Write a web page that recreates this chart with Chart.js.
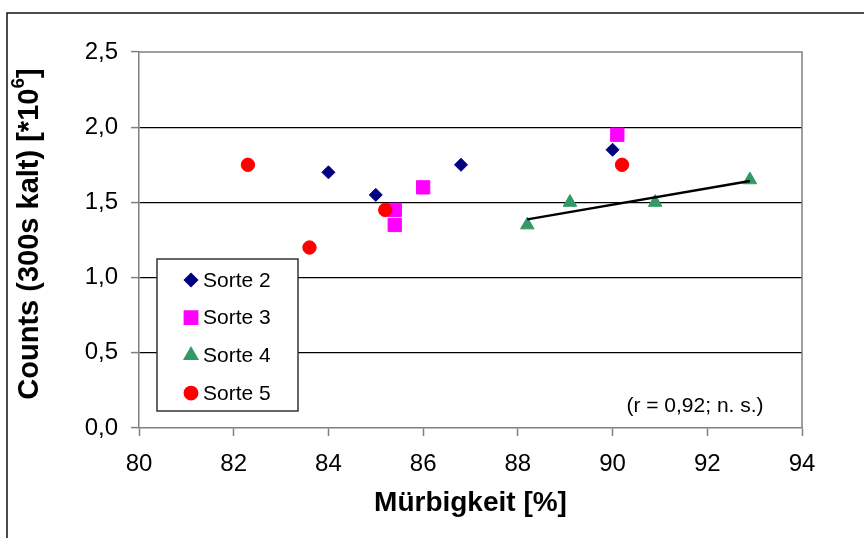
<!DOCTYPE html>
<html>
<head>
<meta charset="utf-8">
<script src="https://cdn.jsdelivr.net/npm/chart.js@4/dist/chart.umd.min.js"></script>
<style>
  html, body { margin: 0; padding: 0; background: #fff; }
  #wrap { width: 864px; height: 538px; position: relative; }
</style>
</head>
<body>
<div id="wrap"><canvas id="chart" width="864" height="538"></canvas></div>
<script>
// Mürbigkeit [%] vs. Counts [*10^6] per Sorte
const sorte2X = [84.0, 85.0, 86.8, 90.0];
const sorte2Y = [1.70, 1.55, 1.75, 1.85];
const sorte3X = [85.4, 85.4, 86.0, 90.1];
const sorte3Y = [1.45, 1.35, 1.60, 1.95];
const sorte4X = [88.2, 89.1, 90.9, 92.9];
const sorte4Y = [1.35, 1.50, 1.50, 1.65];
const sorte5X = [82.3, 83.6, 85.2, 90.2];
const sorte5Y = [1.75, 1.20, 1.45, 1.75];

const seriesLabels = ['Sorte 2', 'Sorte 3', 'Sorte 4', 'Sorte 5'];
const xTitle = 'Mürbigkeit [%]';
const yTitleMain = 'Counts (300s kalt) [*10';
const yTitleSup = '6';
const yTitleEnd = ']';
const noteText = '(r = 0,92; n. s.)';

const FONT = "'Liberation Sans', Arial, Helvetica, sans-serif";

const toPoints = (xs, ys) => xs.map((x, i) => ({ x, y: ys[i] }));

// linear trend through Sorte 4
function trendLine(xs, ys) {
    const n = xs.length;
    const mx = xs.reduce((a, b) => a + b, 0) / n;
    const my = ys.reduce((a, b) => a + b, 0) / n;
    let sxy = 0, sxx = 0;
    xs.forEach((x, i) => { sxy += (x - mx) * (ys[i] - my); sxx += (x - mx) * (x - mx); });
    const k = sxy / sxx;
    const x0 = Math.min(...xs), x1 = Math.max(...xs);
    return [{ x: x0, y: my + k * (x0 - mx) }, { x: x1, y: my + k * (x1 - mx) }];
}

// outer frame, plot border, titles
const decor = {
    id: 'decor',
    beforeDraw(chart) {
        const ctx = chart.ctx;
        ctx.save();
        ctx.fillStyle = '#fff';
        ctx.fillRect(0, 0, chart.width, chart.height);
        ctx.strokeStyle = '#111';
        ctx.lineWidth = 1.5;
        ctx.strokeRect(7, 13, chart.width + 20, chart.height + 20);
        ctx.restore();
    },
    beforeDatasetsDraw(chart) {
        const { ctx, chartArea: a } = chart;
        ctx.save();
        ctx.strokeStyle = '#808080';
        ctx.lineWidth = 1.5;
        ctx.beginPath();
        ctx.moveTo(a.left, a.top);
        ctx.lineTo(a.right, a.top);
        ctx.lineTo(a.right, a.bottom);
        ctx.stroke();
        ctx.restore();
    },
    afterDraw(chart) {
        const { ctx, chartArea: a } = chart;
        ctx.save();
        ctx.fillStyle = '#000';

        // x title
        ctx.font = 'bold 28px ' + FONT;
        ctx.textAlign = 'center';
        ctx.textBaseline = 'middle';
        ctx.fillText(xTitle, (a.left + a.right) / 2, 503);

        // y title with superscript
        ctx.translate(28, 234);
        ctx.rotate(-Math.PI / 2);
        const bigFont = 'bold 29px ' + FONT;
        const supFont = 'bold 19px ' + FONT;
        ctx.font = bigFont;
        const w1 = ctx.measureText(yTitleMain).width;
        const w3 = ctx.measureText(yTitleEnd).width;
        ctx.font = supFont;
        const w2 = ctx.measureText(yTitleSup).width;
        let x = -(w1 + w2 + w3) / 2;
        ctx.textAlign = 'left';
        ctx.textBaseline = 'alphabetic';
        ctx.font = bigFont;
        ctx.fillText(yTitleMain, x, 10);
        x += w1;
        ctx.font = supFont;
        ctx.fillText(yTitleSup, x, -4);
        x += w2;
        ctx.font = bigFont;
        ctx.fillText(yTitleEnd, x, 10);
        ctx.restore();

        // note in the lower right
        ctx.save();
        ctx.font = '21px ' + FONT;
        ctx.fillStyle = '#000';
        ctx.textAlign = 'center';
        ctx.textBaseline = 'middle';
        ctx.fillText(noteText, 695, 406);
        ctx.restore();
    }
};

// boxed legend inside the plot area
const legendBox = {
    id: 'legendBox',
    afterDatasetsDraw(chart) {
        const ctx = chart.ctx;
        ctx.save();
        ctx.fillStyle = '#fff';
        ctx.fillRect(157, 259, 141, 152);
        ctx.strokeStyle = '#333';
        ctx.lineWidth = 1.5;
        ctx.strokeRect(157, 259, 141, 152);
        ctx.font = '21px ' + FONT;
        ctx.textAlign = 'left';
        ctx.textBaseline = 'middle';
        chart.data.datasets.forEach((ds, i) => {
            if (ds.type === 'line') return;
            const y = 280 + i * 37.7;
            ctx.fillStyle = ds.backgroundColor;
            ctx.strokeStyle = ds.borderColor;
            Chart.helpers.drawPoint(ctx, {
                pointStyle: ds.pointStyle, radius: ds.pointRadius, rotation: 0, borderWidth: 1
            }, 191, y);
            ctx.fillStyle = '#000';
            ctx.fillText(ds.label, 203, y + 1);
        });
        ctx.restore();
    }
};

function scatterSet(label, xs, ys, color, style, radius, order) {
    return {
        label, data: toPoints(xs, ys),
        pointStyle: style, pointRadius: radius, pointHoverRadius: radius,
        backgroundColor: color, borderColor: color, borderWidth: 1, order
    };
}

new Chart(document.getElementById('chart'), {
    type: 'scatter',
    data: {
        datasets: [
            scatterSet(seriesLabels[0], sorte2X, sorte2Y, '#000080', 'rectRot', 6.5, 4),
            scatterSet(seriesLabels[1], sorte3X, sorte3Y, '#ff00ff', 'rect', 9.4, 3),
            scatterSet(seriesLabels[2], sorte4X, sorte4Y, '#339966', 'triangle', 7.8, 2),
            scatterSet(seriesLabels[3], sorte5X, sorte5Y, '#ff0000', 'circle', 6.7, 1),
            {
                type: 'line', label: 'Trend', data: trendLine(sorte4X, sorte4Y),
                borderColor: '#000', borderWidth: 2.5, pointRadius: 0, fill: false, order: 0
            }
        ]
    },
    options: {
        responsive: false,
        animation: false,
        events: [],
        layout: { padding: { top: 52, right: 62, left: 0, bottom: 0 } },
        plugins: { legend: { display: false }, tooltip: { enabled: false } },
        scales: {
            x: {
                type: 'linear', min: 80, max: 94,
                afterFit: s => { s.height = 110; },
                ticks: {
                    stepSize: 2, color: '#000', padding: 14,
                    font: { family: FONT, size: 24 }
                },
                grid: { drawOnChartArea: false, tickLength: 8, tickColor: '#808080', tickWidth: 1.5 },
                border: { color: '#808080', width: 1.5 }
            },
            y: {
                type: 'linear', min: 0, max: 2.5,
                afterFit: s => { s.width = 139; },
                ticks: {
                    stepSize: 0.5, color: '#000', padding: 13,
                    font: { family: FONT, size: 24 },
                    callback: v => v.toFixed(1).replace('.', ',')
                },
                grid: {
                    color: c => (c.tick && (c.tick.value === 0 || c.tick.value === 2.5)) ? 'rgba(0,0,0,0)' : '#000',
                    lineWidth: 1.2, tickLength: 8, tickColor: '#808080', tickWidth: 1.5
                },
                border: { color: '#808080', width: 1.5 }
            }
        }
    },
    plugins: [decor, legendBox]
});
</script>
</body>
</html>
